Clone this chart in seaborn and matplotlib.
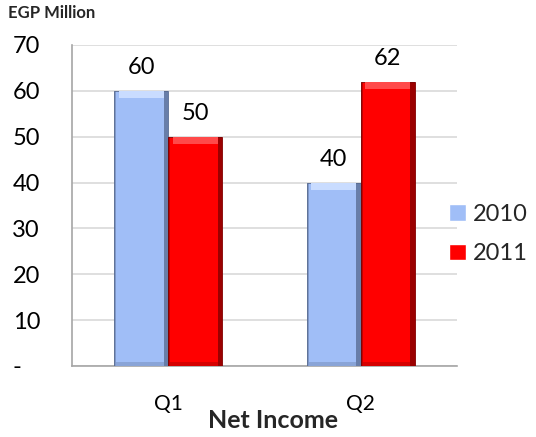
import pandas as pd
import numpy as np
import matplotlib
matplotlib.use("Agg")
from matplotlib import pyplot as plt
from matplotlib.patches import Rectangle
import seaborn as sns

# Data
quarters = ["Q1", "Q2"]
years = ["2010", "2011"]
values_2010 = [60, 40]
values_2011 = [50, 62]

df = pd.DataFrame({
    "quarter": quarters * 2,
    "year": [years[0]] * 2 + [years[1]] * 2,
    "value": values_2010 + values_2011,
})

colors = {"2010": "#A0BEF7", "2011": "#FF0000"}
edges = {"2010": "#56698F", "2011": "#7A0000"}
light = {"2010": "#C9DCFF", "2011": "#FF4A4A"}

sns.set_theme(style="white")
plt.rcParams["font.family"] = ["Lato", "DejaVu Sans"]

fig = plt.figure(figsize=(5.36, 4.37), dpi=100)
ax = fig.add_axes([0.1343, 0.1625, 0.7183, 0.7346])

sns.barplot(data=df, x="quarter", y="value", hue="year", order=quarters,
            hue_order=years, palette=colors, width=0.56, gap=0,
            saturation=1, ax=ax, zorder=3)

# bevel look on each bar, based on the bar geometry
for cont, yr in zip(ax.containers, years):
    for p in cont:
        x0, w, h = p.get_x(), p.get_width(), p.get_height()
        p.set_edgecolor(edges[yr])
        p.set_linewidth(0.6)
        sw = w * 0.08
        sh = 1.6
        ax.add_patch(Rectangle((x0 + sw, h - sh), w - 2 * sw, sh, color=light[yr], lw=0, zorder=4))
        ax.add_patch(Rectangle((x0 + w - sw, 0), sw, h, color=edges[yr], lw=0, zorder=4, alpha=0.75))
        ax.add_patch(Rectangle((x0, 0), sw * 0.5, h, color=edges[yr], lw=0, zorder=4, alpha=0.45))
        ax.add_patch(Rectangle((x0 + sw * 0.5, 0), w - 1.5 * sw, sh * 0.6, color=edges[yr], lw=0, zorder=4, alpha=0.3))
    ax.bar_label(cont, labels=[f"{v:.0f}" for v in cont.datavalues], padding=9,
                 fontsize=17, color="#000000")

ax.set_ylim(0, 70)
ax.set_yticks(range(0, 71, 10))
ax.set_yticklabels(["-   "] + [str(v) for v in range(10, 71, 10)], fontsize=17)
ax.tick_params(axis="y", pad=23, length=0, labelcolor="#000000")
ax.tick_params(axis="x", pad=20, length=0, labelsize=15, labelcolor="#000000")
ax.yaxis.grid(True, color="#D9D9D9", linewidth=1.2)
ax.set_axisbelow(True)
ax.set_xlabel("")
ax.set_ylabel("")

for s in ["top", "right"]:
    ax.spines[s].set_visible(False)
for s in ["left", "bottom"]:
    ax.spines[s].set_color("#A6A6A6")
    ax.spines[s].set_linewidth(1.2)

ax.legend(loc="center left", bbox_to_anchor=(0.838, 0.4645), bbox_transform=fig.transFigure,
          frameon=False, fontsize=17, handlelength=0.7, handleheight=0.7,
          handletextpad=0.3, labelspacing=0.8, borderpad=0, borderaxespad=0)

fig.text(0.015, 0.97, "EGP Million", fontsize=12, fontweight="bold", va="center", ha="left")
fig.text(0.51, 0.038, "Net Income", fontsize=18, fontweight="bold", va="center", ha="center")

plt.savefig("out.png", dpi=100)
